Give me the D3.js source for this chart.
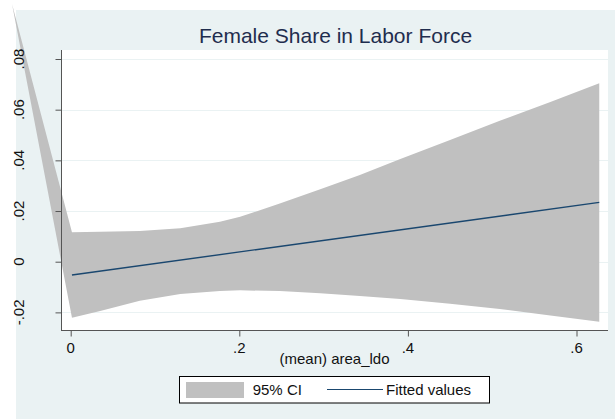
<!DOCTYPE html>
<html>
<head>
<meta charset="utf-8">
<script src="https://cdn.jsdelivr.net/npm/d3@7"></script>
<style>
  html, body { margin: 0; padding: 0; background: #ffffff; }
  svg { display: block; font-family: "Liberation Sans", Arial, Helvetica, sans-serif; }
</style>
</head>
<body>
<div id="chart"></div>
<script>
// ---- data ----
const titleText = "Female Share in Labor Force";
const xAxisTitle = "(mean) area_ldo";
const xTicks = [0, 0.2, 0.4, 0.6];
const yTicks = [-0.02, 0, 0.02, 0.04, 0.06, 0.08];

// 95% CI band (x, lower, upper)
const ciX     = [-0.0696, 0.0015, 0.035, 0.082, 0.130, 0.177, 0.201, 0.248, 0.296, 0.343, 0.391, 0.450, 0.509, 0.569, 0.627];
const ciUpper = [ 0.1017, 0.0116, 0.0118, 0.0121, 0.0132, 0.0158, 0.0177, 0.0230, 0.0286, 0.0342, 0.0405, 0.0480, 0.0556, 0.0630, 0.0704];
const ciLower = [ 0.1017, -0.0221, -0.0195, -0.0154, -0.0127, -0.0116, -0.0113, -0.0116, -0.0125, -0.0135, -0.0147, -0.0166, -0.0187, -0.0212, -0.0237];

// Fitted values
const fitX = [0.0015, 0.627];
const fitY = [-0.00525, 0.0234];

const legendLabels = ["95% CI", "Fitted values"];

// ---- layout ----
const W = 615, H = 419;
const panel = {x: 16, y: 10, w: 599, h: 409};
const plot = {x0: 61, x1: 608, y0: 50, y1: 330};
const COL_PANEL = "#eaf2f3";
const COL_BAND = "#c0c0c0";
const COL_FIT = "#1a476f";
const COL_AXIS = "#555555";
const COL_TITLE = "#1f2d4e";

const x = d3.scaleLinear().domain([0, 0.6]).range([70.7, 576.5]);
const y = d3.scaleLinear().domain([0, 0.08]).range([261.7, 59]);

const fmt = d => d === 0 ? "0" : String(+d.toFixed(4)).replace("0.", ".");

const svg = d3.select("#chart").append("svg").attr("width", W).attr("height", H);

svg.append("rect").attr("x", panel.x).attr("y", panel.y).attr("width", panel.w).attr("height", panel.h).attr("fill", COL_PANEL);
svg.append("rect").attr("x", plot.x0).attr("y", plot.y0).attr("width", plot.x1 - plot.x0).attr("height", plot.y1 - plot.y0).attr("fill", "#ffffff");

// gridlines
svg.append("g").selectAll("line").data(yTicks).join("line")
  .attr("x1", plot.x0).attr("x2", plot.x1)
  .attr("y1", d => Math.round(y(d)) + 0.5).attr("y2", d => Math.round(y(d)) + 0.5)
  .attr("stroke", COL_PANEL).attr("stroke-width", 1);

// CI band (not clipped, as in reference)
const band = ciX.map((v, i) => ({x: v, lo: ciLower[i], hi: ciUpper[i]}));
svg.append("path").datum(band)
  .attr("d", d3.area().x(d => x(d.x)).y0(d => y(d.lo)).y1(d => y(d.hi)))
  .attr("fill", COL_BAND).attr("stroke", "none");

// fitted line
const fit = fitX.map((v, i) => ({x: v, y: fitY[i]}));
svg.append("path").datum(fit)
  .attr("d", d3.line().x(d => x(d.x)).y(d => y(d.y)))
  .attr("fill", "none").attr("stroke", COL_FIT).attr("stroke-width", 1.4);

// axes
const yAxis = svg.append("g").attr("transform", `translate(${plot.x0 + 0.5},0)`)
  .call(d3.axisLeft(y).tickValues(yTicks).tickSize(6).tickFormat(""));
yAxis.select(".domain").remove();
yAxis.selectAll(".tick line").attr("stroke", COL_AXIS);

const xAxis = svg.append("g").attr("transform", `translate(0,${plot.y1 + 0.5})`)
  .call(d3.axisBottom(x).tickValues(xTicks).tickSize(6).tickFormat(""));
xAxis.select(".domain").remove();
xAxis.selectAll(".tick line").attr("stroke", COL_AXIS);

svg.append("line").attr("x1", plot.x0 + 0.5).attr("x2", plot.x0 + 0.5).attr("y1", plot.y0).attr("y2", plot.y1 + 1)
  .attr("stroke", COL_AXIS).attr("stroke-width", 1);
svg.append("line").attr("x1", plot.x0).attr("x2", plot.x1).attr("y1", plot.y1 + 0.5).attr("y2", plot.y1 + 0.5)
  .attr("stroke", COL_AXIS).attr("stroke-width", 1);

// tick labels
svg.append("g").selectAll("text").data(xTicks).join("text")
  .attr("x", d => x(d)).attr("y", 352.5).attr("text-anchor", "middle")
  .attr("font-size", 15).attr("fill", "#111").text(fmt);

svg.append("g").selectAll("text").data(yTicks).join("text")
  .attr("transform", d => `translate(24,${y(d)}) rotate(-90)`)
  .attr("text-anchor", "middle").attr("font-size", 15).attr("fill", "#111").text(fmt);

// axis title
svg.append("text").attr("x", (plot.x0 + plot.x1) / 2).attr("y", 364).attr("text-anchor", "middle")
  .attr("font-size", 15).attr("fill", "#111").text(xAxisTitle);

// title
svg.append("text").attr("x", (plot.x0 + plot.x1) / 2 + 1).attr("y", 43).attr("text-anchor", "middle")
  .attr("font-size", 21).attr("fill", COL_TITLE).text(titleText);

// legend
const lg = svg.append("g");
lg.append("rect").attr("x", 179.5).attr("y", 376.5).attr("width", 310).attr("height", 26.5)
  .attr("fill", "#ffffff").attr("stroke", "#000").attr("stroke-width", 1);
lg.append("rect").attr("x", 186).attr("y", 382).attr("width", 58).attr("height", 16).attr("fill", COL_BAND);
lg.append("text").attr("x", 252.7).attr("y", 395).attr("font-size", 15).attr("fill", "#111").text(legendLabels[0]);
lg.append("line").attr("x1", 327).attr("x2", 383).attr("y1", 389.5).attr("y2", 389.5)
  .attr("stroke", COL_FIT).attr("stroke-width", 1.2);
lg.append("text").attr("x", 386).attr("y", 395).attr("font-size", 15).attr("fill", "#111").text(legendLabels[1]);
</script>
</body>
</html>
